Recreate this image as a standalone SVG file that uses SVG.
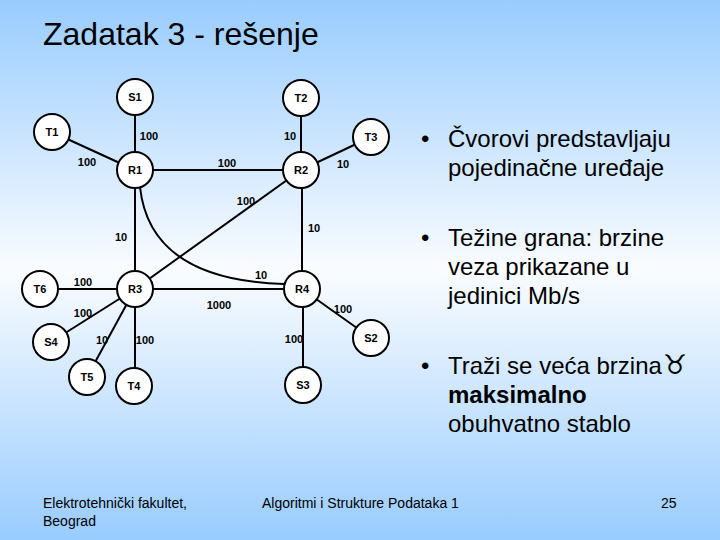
<svg xmlns="http://www.w3.org/2000/svg" width="720" height="540" viewBox="0 0 720 540">
<defs>
<linearGradient id="bg" x1="0" y1="0" x2="0" y2="1">
<stop offset="0" stop-color="#99CCFF"/>
<stop offset="0.5" stop-color="#FAFCFF"/>
<stop offset="1" stop-color="#99CCFF"/>
</linearGradient>
<style>
.e{stroke:#000;stroke-width:2;fill:none}
.n circle{fill:#fff;stroke:#000;stroke-width:2}
.n text{font-family:"Liberation Sans",Arial,sans-serif;font-size:11px;font-weight:bold;text-anchor:middle;fill:#000}
.w{font-family:"Liberation Sans",Arial,sans-serif;font-size:11px;font-weight:bold;text-anchor:middle;fill:#000}
.b{font-family:"Liberation Sans",Arial,"DejaVu Sans",sans-serif;font-size:24px;fill:#000}
.f{font-family:"Liberation Sans",Arial,sans-serif;font-size:14px;fill:#000}
</style>
</defs>
<rect width="720" height="540" fill="url(#bg)"/>
<text x="43" y="45" font-family="Liberation Sans, Arial, sans-serif" font-size="32" fill="#000">Zadatak 3 - rešenje</text>

<g id="connectors">
<line class="e" x1="135" y1="97" x2="135" y2="170"/>
<line class="e" x1="52" y1="132" x2="135" y2="170"/>
<line class="e" x1="135" y1="170" x2="301" y2="170"/>
<line class="e" x1="135" y1="170" x2="135" y2="289"/>
<path class="e" d="M140 187 Q150 280 284 284"/>
<line class="e" x1="301" y1="98" x2="301" y2="170"/>
<line class="e" x1="371" y1="137" x2="301" y2="170"/>
<line class="e" x1="301" y1="170" x2="135" y2="289"/>
<line class="e" x1="302" y1="170" x2="302" y2="289"/>
<line class="e" x1="40" y1="289" x2="135" y2="289"/>
<line class="e" x1="135" y1="289" x2="302" y2="289"/>
<line class="e" x1="135" y1="289" x2="51" y2="342"/>
<line class="e" x1="135" y1="289" x2="87" y2="377"/>
<line class="e" x1="135" y1="289" x2="135" y2="386"/>
<line class="e" x1="302" y1="289" x2="371" y2="338"/>
<line class="e" x1="303" y1="289" x2="303" y2="385"/>
</g>

<g id="weights">
<text class="w" x="149" y="140">100</text>
<text class="w" x="87" y="166">100</text>
<text class="w" x="227" y="167">100</text>
<text class="w" x="290" y="140">10</text>
<text class="w" x="343" y="168">10</text>
<text class="w" x="246" y="205">100</text>
<text class="w" x="121" y="241">10</text>
<text class="w" x="83" y="286">100</text>
<text class="w" x="83" y="317">100</text>
<text class="w" x="219" y="309">1000</text>
<text class="w" x="261" y="279">10</text>
<text class="w" x="314" y="232">10</text>
<text class="w" x="343" y="313">100</text>
<text class="w" x="102" y="344">10</text>
<text class="w" x="145" y="344">100</text>
<text class="w" x="294" y="343">100</text>
</g>

<g id="S1" class="n"><circle cx="135" cy="97" r="18"/><text x="135" y="101">S1</text></g>
<g id="T1" class="n"><circle cx="52" cy="132" r="18"/><text x="52" y="136">T1</text></g>
<g id="R1" class="n"><circle cx="135" cy="170" r="18"/><text x="135" y="174">R1</text></g>
<g id="T2" class="n"><circle cx="301" cy="98" r="18"/><text x="301" y="102">T2</text></g>
<g id="T3" class="n"><circle cx="371" cy="137" r="18"/><text x="371" y="141">T3</text></g>
<g id="R2" class="n"><circle cx="301" cy="170" r="18"/><text x="301" y="174">R2</text></g>
<g id="T6" class="n"><circle cx="40" cy="289" r="18"/><text x="40" y="293">T6</text></g>
<g id="R3" class="n"><circle cx="135" cy="289" r="18"/><text x="135" y="293">R3</text></g>
<g id="R4" class="n"><circle cx="302" cy="289" r="18"/><text x="302" y="293">R4</text></g>
<g id="S4" class="n"><circle cx="51" cy="342" r="18"/><text x="51" y="346">S4</text></g>
<g id="T5" class="n"><circle cx="87" cy="377" r="18"/><text x="87" y="381">T5</text></g>
<g id="T4" class="n"><circle cx="134" cy="386" r="18"/><text x="134" y="390">T4</text></g>
<g id="S2" class="n"><circle cx="371" cy="338" r="18"/><text x="371" y="342">S2</text></g>
<g id="S3" class="n"><circle cx="303" cy="385" r="18"/><text x="303" y="389">S3</text></g>

<g id="bullets">
<text class="b" x="421" y="147">•</text>
<text class="b" x="448" y="147">Čvorovi predstavljaju</text>
<text class="b" x="448" y="176">pojedinačne uređaje</text>
<text class="b" x="421" y="246">•</text>
<text class="b" x="448" y="246">Težine grana: brzine</text>
<text class="b" x="448" y="275">veza prikazane u</text>
<text class="b" x="448" y="304">jedinici Mb/s</text>
<text class="b" x="421" y="374">•</text>
<text class="b" x="448" y="374">Traži se veća brzina<tspan font-family="DejaVu Sans" font-size="27" dx="1">♉&#xFE0E;</tspan></text>
<text class="b" x="448" y="403" font-weight="bold">maksimalno</text>
<text class="b" x="448" y="432">obuhvatno stablo</text>
</g>

<g id="footer">
<text class="f" x="43" y="508">Elektrotehnički fakultet,</text>
<text class="f" x="43" y="526">Beograd</text>
<text class="f" x="262" y="508">Algoritmi i Strukture Podataka 1</text>
<text class="f" x="661" y="508">25</text>
</g>
</svg>
